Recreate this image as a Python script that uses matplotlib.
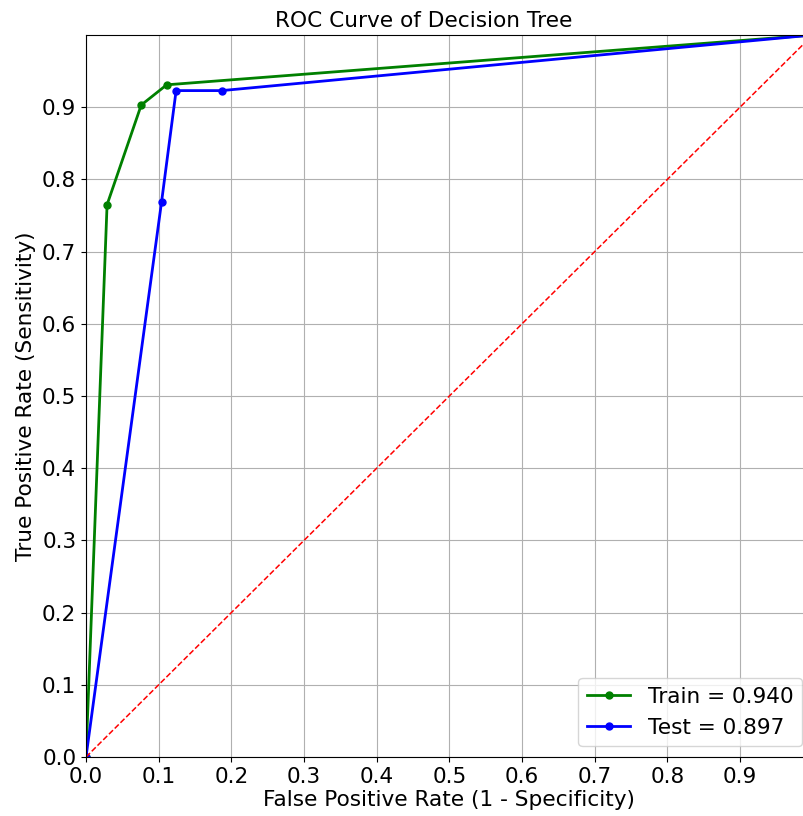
import numpy as np
import matplotlib
matplotlib.use('Agg')
import matplotlib.pyplot as plt

# ROC points
train_fpr = [0.0, 0.029, 0.076, 0.111, 1.0]
train_tpr = [0.0, 0.765, 0.903, 0.931, 1.0]
test_fpr = [0.0, 0.104, 0.124, 0.187, 1.0]
test_tpr = [0.0, 0.769, 0.923, 0.923, 1.0]
train_auc = 0.940
test_auc = 0.897
ticks = [0.0, 0.1, 0.2, 0.3, 0.4, 0.5, 0.6, 0.7, 0.8, 0.9]

fs = 15.6

fig = plt.figure(figsize=(8.04, 8.16), dpi=100)
# axes run slightly past the right edge, as in the cropped original
ax = fig.add_axes([86 / 804, 59 / 816, 726.7 / 804, 722 / 816])

ax.plot(train_fpr, train_tpr, color='green', marker='o', markersize=5, linewidth=2,
        label='Train = %.3f' % train_auc)
ax.plot(test_fpr, test_tpr, color='blue', marker='o', markersize=5, linewidth=2,
        label='Test = %.3f' % test_auc)
ax.plot([0, 1], [0, 1], color='red', linestyle='--', linewidth=1.1)

ax.set_xlim(0, 1)
ax.set_ylim(0, 1)
ax.set_xticks(ticks)
ax.set_yticks(ticks)
ax.tick_params(labelsize=fs)
ax.grid(True)

ax.set_xlabel('False Positive Rate (1 - Specificity)', fontsize=fs, labelpad=2)
ax.set_ylabel('True Positive Rate (Sensitivity)', fontsize=fs)
fig.text(424 / 804, 1 - 21 / 816, 'ROC Curve of Decision Tree', fontsize=fs,
         ha='center', va='center')

ax.legend(fontsize=fs, loc='lower right')

fig.savefig('out.png', dpi=100)
